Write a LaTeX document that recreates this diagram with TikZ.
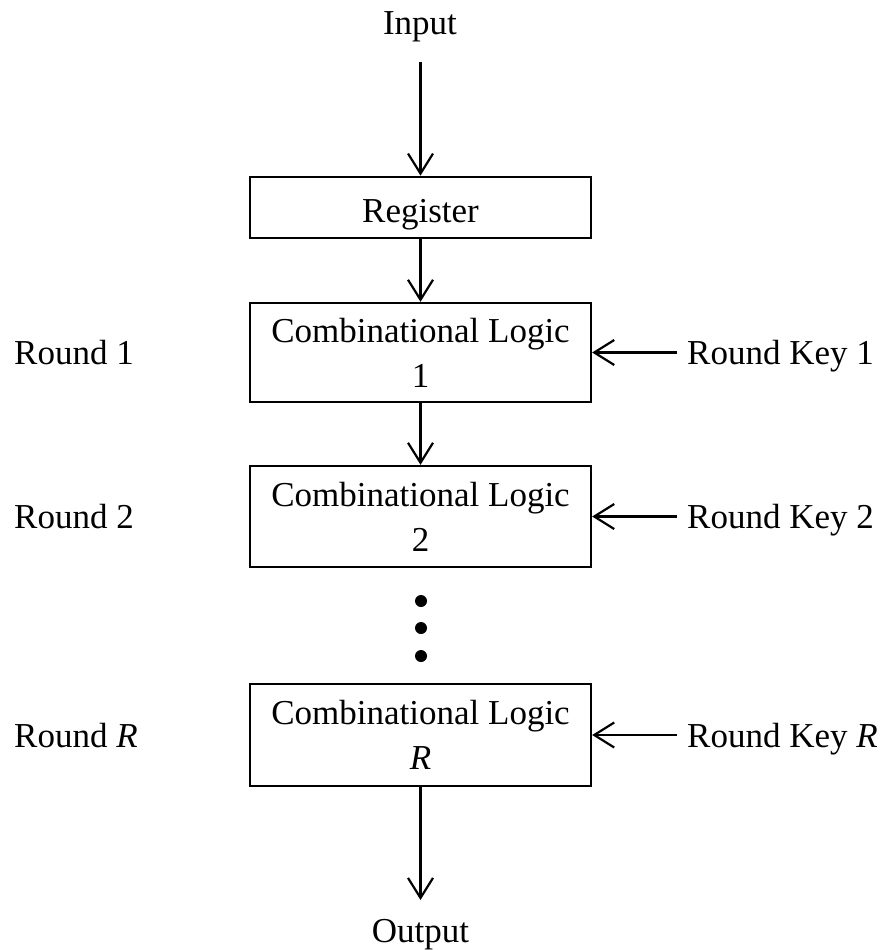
\documentclass[tikz,border=0pt]{standalone}
\usepackage{fontspec}
\setmainfont{Liberation Serif}
\usetikzlibrary{arrows.meta}
\begin{document}
\begin{tikzpicture}[x=1pt,y=-1pt,font=\fontsize{35}{45}\selectfont,
  box/.style={draw,line width=2.3pt,minimum width=341pt,inner sep=0pt,align=center},
  arr/.style={line width=2.2pt,-{Straight Barb[length=20pt,width=25pt,line width=2.2pt]}},
  lbl/.style={anchor=base west,inner sep=0pt},
  dotc/.style={circle,fill=black,inner sep=0pt,minimum size=12pt}]
\useasboundingbox (0,0) rectangle (884,950);
\node[anchor=base,inner sep=0pt] (in) at (420,35) {Input};
\node[box,line width=2.7pt,minimum height=61pt,text height=29pt,text depth=0pt] (reg) at (420.5,207.5) {Register};
\node[box,minimum height=99pt] (c1) at (420.5,352.5) {Combinational Logic\\1};
\node[box,minimum height=101pt] (c2) at (420.5,516.5) {Combinational Logic\\2};
\node[box,minimum height=102pt] (cR) at (420.5,735) {Combinational Logic\\\textit{R}};
\node[anchor=base,inner sep=0pt] (out) at (420.5,942) {Output};
\coordinate (inS) at (420.5,62);
\coordinate (outE) at (420.5,900);
\draw[arr] (inS) -- (reg.north);
\draw[arr] (reg.south) -- (c1.north);
\draw[arr] (c1.south) -- (c2.north);
\draw[arr] (cR.south) -- (outE);
\node[dotc] (d1) at (421,601) {};
\node[dotc] (d2) at (421,628) {};
\node[dotc] (d3) at (421,656) {};
\node[lbl] (r1) at (14,364) {Round 1};
\node[lbl] (r2) at (14,528) {Round 2};
\node[lbl] (rR) at (14,747) {Round \textit{R}};
\node[lbl] (k1) at (687,364) {Round Key 1};
\node[lbl] (k2) at (687,528) {Round Key 2};
\node[lbl] (kR) at (687,747) {Round Key \textit{R}};
\coordinate (k1s) at (677,352.5);
\coordinate (k2s) at (677,516.5);
\coordinate (kRs) at (677,735);
\draw[arr] (k1s) -- (c1.east);
\draw[arr] (k2s) -- (c2.east);
\draw[arr] (kRs) -- (cR.east);
\end{tikzpicture}
\end{document}
